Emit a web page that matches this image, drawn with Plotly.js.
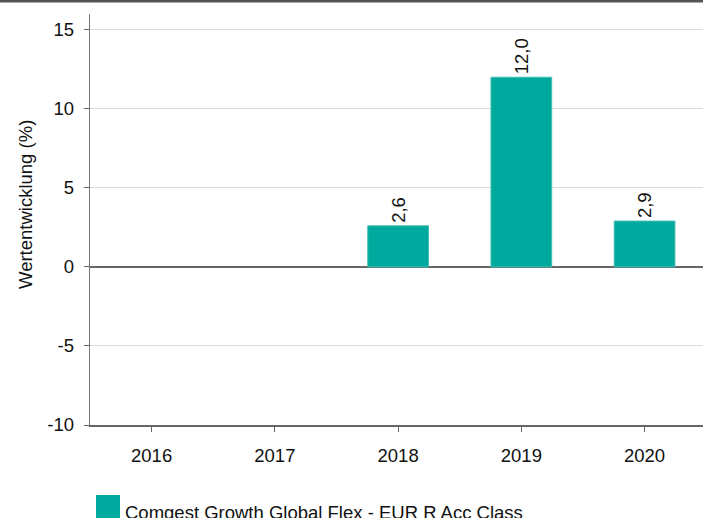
<!DOCTYPE html>
<html>
<head>
<meta charset="utf-8">
<script src="https://cdn.plot.ly/plotly-3.0.1.min.js"></script>
<style>html,body{margin:0;padding:0;background:#fff;}#chart{width:703px;height:518px;}</style>
</head>
<body>
<div id="chart"></div>
<script>
const years = ["2016", "2017", "2018", "2019", "2020"];
const values = [null, null, 2.6, 12.0, 2.9];
const valueLabels = ["", "", "2,6", "12,0", "2,9"];
const seriesName = "Comgest Growth Global Flex - EUR R Acc Class";
const yTickVals = [-10, -5, 0, 5, 10, 15];
const yTickText = ["-10", "-5", "0", "5", "10", "15"];

const FONT = "Liberation Sans, Arial, sans-serif";
const FS = 18.5;
const BAR = "#00a99d";

const trace = {
  type: "bar",
  x: years,
  y: values,
  text: valueLabels,
  textposition: "outside",
  textangle: -90,
  cliponaxis: false,
  textfont: {family: FONT, size: FS, color: "#111"},
  marker: {color: BAR, line: {color: "#40bdb4", width: 1}},
  name: seriesName,
  showlegend: false,
  hoverinfo: "skip"
};

const layout = {
  width: 703,
  height: 518,
  margin: {l: 90, r: 0, t: 14, b: 93},
  paper_bgcolor: "#fff",
  plot_bgcolor: "#fff",
  font: {family: FONT, size: FS, color: "#111"},
  bargap: 0.5075,
  showlegend: false,
  xaxis: {
    type: "category",
    categoryorder: "array",
    categoryarray: years,
    range: [-0.5, 4.474],
    showgrid: false,
    showline: true,
    linecolor: "#666",
    linewidth: 1.5,
    ticks: "outside",
    ticklen: 5,
    tickcolor: "#666",
    tickwidth: 1,
    ticklabelstandoff: 8,
    tickfont: {family: FONT, size: FS, color: "#111"},
    zeroline: false,
    fixedrange: true
  },
  yaxis: {
    range: [-10, 16],
    tickvals: yTickVals,
    ticktext: yTickText,
    showgrid: true,
    gridcolor: "#dcdcdc",
    gridwidth: 1,
    showline: true,
    linecolor: "#777",
    linewidth: 1.3,
    ticks: "outside",
    ticklen: 5,
    tickcolor: "#666",
    tickwidth: 1,
    ticklabelstandoff: 6,
    tickfont: {family: FONT, size: FS, color: "#111"},
    zeroline: true,
    zerolinecolor: "#666",
    zerolinewidth: 2,
    fixedrange: true
  },
  shapes: [
    {
      type: "rect", xref: "paper", yref: "paper",
      x0: -90 / 613, x1: 1,
      ysizemode: "pixel", yanchor: 1, y0: 11.5, y1: 14.5,
      fillcolor: "#555", line: {width: 0}
    },
    {
      type: "rect", xref: "paper", yref: "paper",
      x0: (96 - 90) / 613, x1: (120 - 90) / 613,
      y0: (425 - 495) / 411, y1: (425 - 519) / 411,
      fillcolor: BAR, line: {width: 0}
    }
  ],
  annotations: [
    {
      text: "Wertentwicklung (%)",
      xref: "paper", yref: "paper",
      x: (25 - 90) / 613, y: (425 - 205) / 411,
      xanchor: "center", yanchor: "middle",
      textangle: -90, showarrow: false,
      font: {family: FONT, size: FS, color: "#111"}
    },
    {
      text: seriesName,
      xref: "paper", yref: "paper",
      x: (123 - 90) / 613, y: (425 - 512) / 411,
      xanchor: "left", yanchor: "middle",
      showarrow: false,
      font: {family: FONT, size: FS, color: "#111"}
    }
  ]
};

Plotly.newPlot("chart", [trace], layout, {displayModeBar: false, staticPlot: true});
</script>
</body>
</html>
